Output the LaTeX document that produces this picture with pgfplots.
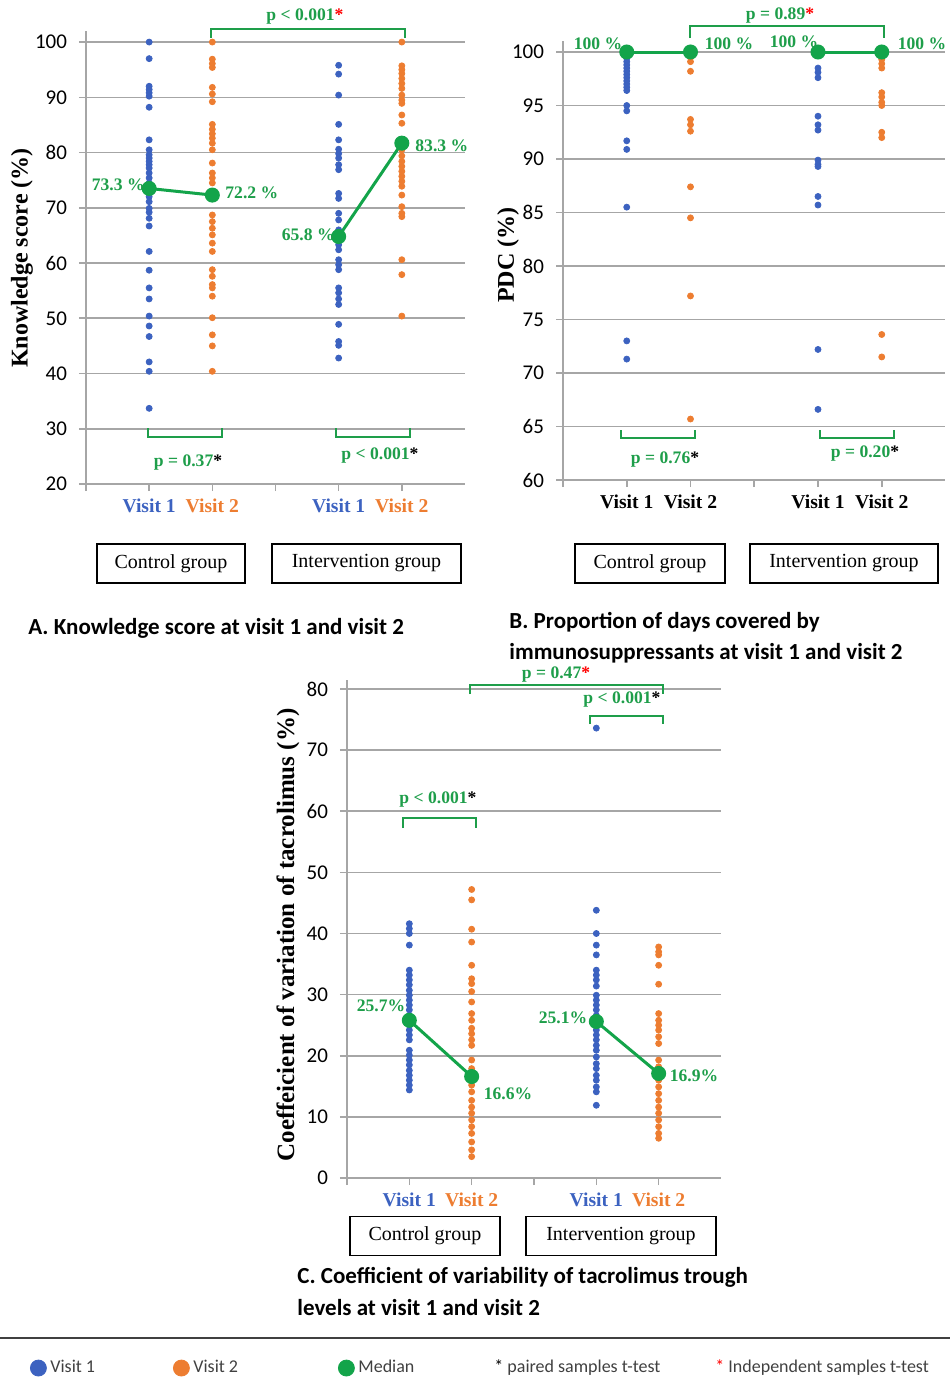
\documentclass[border=0pt]{standalone}
\usepackage{fontspec}
\setmainfont{Liberation Serif}
\setsansfont{Carlito}
\usepackage{pgfplots}
\pgfplotsset{compat=1.18}
\definecolor{vone}{HTML}{3C62C0}
\definecolor{vtwo}{HTML}{ED7D31}
\definecolor{med}{HTML}{13A44A}
\definecolor{ptxt}{HTML}{1E9E4A}
\definecolor{gridc}{HTML}{A6A6A6}
\definecolor{legtxt}{HTML}{404040}
\newcommand\bs{\textcolor{black}{*}}
\newcommand\rs{\textcolor{red}{*}}
\pgfplotsset{
  dots/.style={only marks, mark=*, mark size=1.5pt, forget plot},
  medl/.style={color=med, line width=1.5pt, mark=*, mark size=3pt, forget plot},
  panel/.style={scale only axis, anchor=south west,
    axis x line*=bottom, axis y line*=left,
    axis line style={gridc, line width=0.8pt},
    ymajorgrids, grid style={gridc, line width=0.8pt},
    tick align=outside, major tick length=3.5pt,
    tick style={gridc, line width=0.8pt},
    xmin=0, xmax=6, xtick={1,2,4,5}, extra x ticks={0,3}, extra x tick labels={},
    clip=false,
    yticklabel style={font=\sffamily\fontsize{10.5}{10.5}\selectfont, text=black, xshift=-2.5pt},
    xticklabel style={font=\bfseries\fontsize{9.8}{9.8}\selectfont, yshift=-0.5pt},
    /pgf/number format/assume math mode=true}
}
\begin{document}
\begin{tikzpicture}
\path[use as bounding box] (0,0) rectangle (475pt,-689pt);
% ---------------- Panel A ----------------
\begin{axis}[panel, at={(43pt,-242pt)}, width=189.5pt, height=226.5pt,
  ymin=20, ymax=102, ytick={20,30,...,100},
  xticklabels={\textcolor{vone}{Visit 1},\textcolor{vtwo}{Visit 2},\textcolor{vone}{Visit 1},\textcolor{vtwo}{Visit 2}}]
\addplot[dots, vone] coordinates {(1,100)(1,97)(1,92)(1,91.4)(1,90.8)(1,90.2)(1,88.2)(1,82.3)(1,80.5)(1,79.6)(1,79)(1,78.4)(1,77.8)(1,77.2)(1,76.3)(1,75.4)(1,74.5)(1,73.3)(1,72)(1,71.1)(1,69.9)(1,69.2)(1,68.1)(1,66.7)(1,62.1)(1,58.7)(1,55.5)(1,53.5)(1,50.4)(1,48.6)(1,46.7)(1,42.1)(1,40.4)(1,33.7)};
\addplot[dots, vtwo] coordinates {(2,100)(2,96.9)(2,96.1)(2,95.4)(2,91.8)(2,90.6)(2,89.2)(2,85.1)(2,84.2)(2,83.4)(2,82.6)(2,81.7)(2,80.5)(2,78.1)(2,76.3)(2,75.4)(2,74.5)(2,72.2)(2,68.7)(2,67.5)(2,66.3)(2,65.1)(2,63.6)(2,62.1)(2,58.8)(2,57.6)(2,56.1)(2,55.5)(2,54)(2,50.1)(2,47)(2,45)(2,40.4)};
\addplot[dots, vone] coordinates {(4,95.8)(4,94.2)(4,90.4)(4,85.1)(4,82.3)(4,80.6)(4,79.8)(4,79)(4,77.8)(4,76.9)(4,72.6)(4,71.7)(4,69)(4,67.8)(4,66)(4,64.8)(4,63.3)(4,62.4)(4,60.6)(4,59.7)(4,58.8)(4,55.5)(4,54.6)(4,53.5)(4,52.5)(4,48.9)(4,45.8)(4,45.1)(4,42.8)};
\addplot[dots, vtwo] coordinates {(5,100)(5,95.7)(5,95)(5,94.3)(5,93.4)(5,92.5)(5,91.6)(5,90.4)(5,89.5)(5,88.9)(5,86.8)(5,85.3)(5,82.3)(5,81.4)(5,80.5)(5,79.4)(5,78.4)(5,77.5)(5,76.6)(5,75.7)(5,74.8)(5,73.9)(5,72.3)(5,70.2)(5,69)(5,68.4)(5,60.6)(5,57.9)(5,50.4)};
\addplot[medl] coordinates {(1,73.5)(2,72.3)};
\addplot[medl] coordinates {(4,64.8)(5,81.7)};
\end{axis}
% ---------------- Panel B ----------------
\begin{axis}[panel, at={(281.5pt,-240pt)}, width=191.25pt, height=219.35pt,
  ymin=60, ymax=101, ytick={60,65,...,100},
  xticklabels={Visit 1,Visit 2,Visit 1,Visit 2}]
\addplot[dots, vone] coordinates {(1,100)(1,99.7)(1,99.4)(1,99.1)(1,98.8)(1,98.5)(1,98.2)(1,97.9)(1,97.6)(1,97.3)(1,97)(1,96.7)(1,96.4)(1,95)(1,94.5)(1,91.7)(1,90.9)(1,85.5)(1,73)(1,71.3)};
\addplot[dots, vtwo] coordinates {(2,100)(2,99.5)(2,99.1)(2,98.2)(2,93.7)(2,93.2)(2,92.6)(2,87.4)(2,84.5)(2,77.2)(2,65.7)};
\addplot[dots, vone] coordinates {(4,100)(4,98.5)(4,98.1)(4,97.6)(4,94)(4,93.2)(4,92.7)(4,89.9)(4,89.5)(4,89.3)(4,86.5)(4,85.7)(4,72.2)(4,66.6)};
\addplot[dots, vtwo] coordinates {(5,100)(5,99.3)(5,98.9)(5,98.5)(5,96.2)(5,95.8)(5,95.3)(5,95)(5,92.5)(5,92)(5,73.6)(5,71.5)};
\addplot[medl] coordinates {(1,100)(2,100)};
\addplot[medl] coordinates {(4,100)(5,100)};
\end{axis}
% ---------------- Panel C ----------------
\begin{axis}[panel, at={(173.5pt,-589pt)}, width=187pt, height=249.1pt,
  ymin=0, ymax=81.5, ytick={0,10,...,80},
  xticklabels={\textcolor{vone}{Visit 1},\textcolor{vtwo}{Visit 2},\textcolor{vone}{Visit 1},\textcolor{vtwo}{Visit 2}},
  legend columns=5,
  legend style={at={(-0.8476,-0.3814)}, anchor=west, draw=none, fill=none, inner sep=0pt,
    font=\sffamily\fontsize{9}{9}\selectfont, text=legtxt,
    nodes={inner sep=0pt, anchor=west},
    /tikz/every odd column/.style={column sep=2pt},
    /tikz/every even column/.style={column sep=0pt}},
  legend image code/.code={\draw[mark repeat=2,mark phase=2,#1] plot coordinates {(0pt,0pt)(4pt,0pt)(8pt,0pt)};}]
\addplot[dots, vone] coordinates {(1,41.6)(1,40.8)(1,40)(1,38.1)(1,34)(1,33.2)(1,32.4)(1,31.6)(1,30.7)(1,29.9)(1,29.1)(1,28.3)(1,27.5)(1,26.6)(1,25.8)(1,25)(1,24.2)(1,23.4)(1,22.6)(1,20.9)(1,20.1)(1,19.3)(1,18.5)(1,17.6)(1,16.8)(1,16)(1,15.2)(1,14.4)};
\addplot[dots, vtwo] coordinates {(2,47.2)(2,45.5)(2,40.7)(2,38.6)(2,34.8)(2,32.6)(2,31.8)(2,30.5)(2,28.8)(2,26.9)(2,25.8)(2,24.5)(2,23.6)(2,22.6)(2,21.7)(2,19.3)(2,17.9)(2,16.6)(2,15.2)(2,14.1)(2,12.7)(2,11.6)(2,10.6)(2,9.5)(2,8.4)(2,7.3)(2,5.9)(2,4.6)(2,3.5)};
\addplot[dots, vone] coordinates {(4,73.6)(4,43.8)(4,40)(4,38.1)(4,36.5)(4,34)(4,33.2)(4,32.4)(4,31.4)(4,29.9)(4,29.1)(4,28.3)(4,27.5)(4,26.6)(4,25.8)(4,25)(4,24.2)(4,23.4)(4,22.6)(4,21.7)(4,20.9)(4,19.8)(4,18.7)(4,17.9)(4,16.8)(4,16)(4,14.9)(4,14.1)(4,11.9)};
\addplot[dots, vtwo] coordinates {(5,37.8)(5,37)(5,36.5)(5,34.8)(5,31.7)(5,26.9)(5,25.8)(5,25)(5,24.2)(5,23.1)(5,22)(5,19.3)(5,18.2)(5,17.1)(5,16)(5,14.9)(5,13.8)(5,12.7)(5,11.6)(5,10.6)(5,9.5)(5,8.4)(5,7.3)(5,6.5)};
\addplot[medl] coordinates {(1,25.8)(2,16.6)};
\addplot[medl] coordinates {(4,25.6)(5,17.1)};
\addlegendimage{only marks, mark=*, mark size=4pt, color=vone}
\addlegendentry{\makebox[61.5pt][l]{Visit 1}}
\addlegendimage{only marks, mark=*, mark size=4pt, color=vtwo}
\addlegendentry{\makebox[72.5pt][l]{Visit 2}}
\addlegendimage{only marks, mark=*, mark size=4pt, color=med}
\addlegendentry{\makebox[66pt][l]{Median}}
\addlegendimage{empty legend}
\addlegendentry{\makebox[108.5pt][l]{\bs\ paired samples t-test}}
\addlegendimage{empty legend}
\addlegendentry{\rs\ Independent samples t-test}
\end{axis}
% ---------------- annotations in pixel coordinates ----------------
\begin{scope}[x=0.5pt,y=-0.5pt,
  br/.style={ptxt, line width=1pt},
  pt/.style={text=ptxt, font=\bfseries\fontsize{8.8}{8.8}\selectfont, inner sep=0pt},
  grp/.style={draw=black, line width=0.7pt, minimum height=19.5pt, inner sep=0pt, font=\fontsize{10}{10}\selectfont},
  ttl/.style={anchor=west, font=\sffamily\bfseries\fontsize{11.5}{11.5}\selectfont, inner sep=0pt},
  yl/.style={rotate=90, font=\bfseries\fontsize{12}{12}\selectfont, inner sep=0pt}]
% A
\draw[br] (211,38) -- (211,29) -- (405,29) -- (405,38);
\node[pt] at (305,17) {p < 0.001\rs};
\draw[br] (148,428) -- (148,437) -- (222,437) -- (222,428);
\node[pt] at (188,463) {p = 0.37\bs};
\draw[br] (336,428) -- (336,437) -- (410,437) -- (410,428);
\node[pt] at (380,456) {p < 0.001\bs};
\node[pt, anchor=east] at (145,185) {73.3 \%};
\node[pt, anchor=west] at (225,193) {72.2 \%};
\node[pt, anchor=east] at (335,235) {65.8 \%};
\node[pt, anchor=west] at (415,146) {83.3 \%};
\node[yl] at (22,258) {Knowledge score (\%)};
\node[grp, minimum width=74pt] at (171,563.5) {Control group};
\node[grp, minimum width=94.5pt] at (366.5,563.5) {Intervention group};
\node[ttl] at (28,628) {A. Knowledge score at visit 1 and visit 2};
% B
\draw[br] (690,38) -- (690,26) -- (884,26) -- (884,38);
\node[pt] at (780,16) {p = 0.89\rs};
\draw[br] (621,430) -- (621,438) -- (695,438) -- (695,430);
\node[pt] at (665,460) {p = 0.76\bs};
\draw[br] (820,430) -- (820,438) -- (894,438) -- (894,430);
\node[pt] at (865,454) {p = 0.20\bs};
\node[pt] at (598,44) {100 \%};
\node[pt] at (729,44) {100 \%};
\node[pt] at (794,42) {100 \%};
\node[pt] at (922,44) {100 \%};
\node[yl] at (508,255) {PDC (\%)};
\node[grp, minimum width=75pt] at (650,563.5) {Control group};
\node[grp, minimum width=94pt] at (844,563.5) {Intervention group};
\node[ttl] at (509,622) {B. Proportion of days covered by};
\node[ttl] at (509,653) {immunosuppressants at visit 1 and visit 2};
% C
\draw[br] (470,694) -- (470,685) -- (663,685) -- (663,694);
\node[pt] at (556,675) {p = 0.47\rs};
\draw[br] (590,724) -- (590,716) -- (663,716) -- (663,724);
\node[pt] at (622,700) {p < 0.001\bs};
\draw[br] (403,828) -- (403,818) -- (476,818) -- (476,828);
\node[pt] at (438,800) {p < 0.001\bs};
\node[pt] at (381,1006) {25.7\%};
\node[pt] at (508,1094) {16.6\%};
\node[pt] at (563,1018) {25.1\%};
\node[pt] at (694,1076) {16.9\%};
\node[yl, font=\bfseries\fontsize{12.5}{12.5}\selectfont] at (288,935) {Coeffeicient of variation of tacrolimus (\%)};
\node[grp, minimum width=75pt] at (425,1236) {Control group};
\node[grp, minimum width=95pt] at (621,1236) {Intervention group};
\node[ttl] at (297,1277) {C. Coefficient of variability of tacrolimus trough};
\node[ttl] at (297,1307) {levels at visit 1 and visit 2};
\draw[black!75, line width=1pt] (0,1338) -- (950,1338);
\end{scope}
\end{tikzpicture}
\end{document}
